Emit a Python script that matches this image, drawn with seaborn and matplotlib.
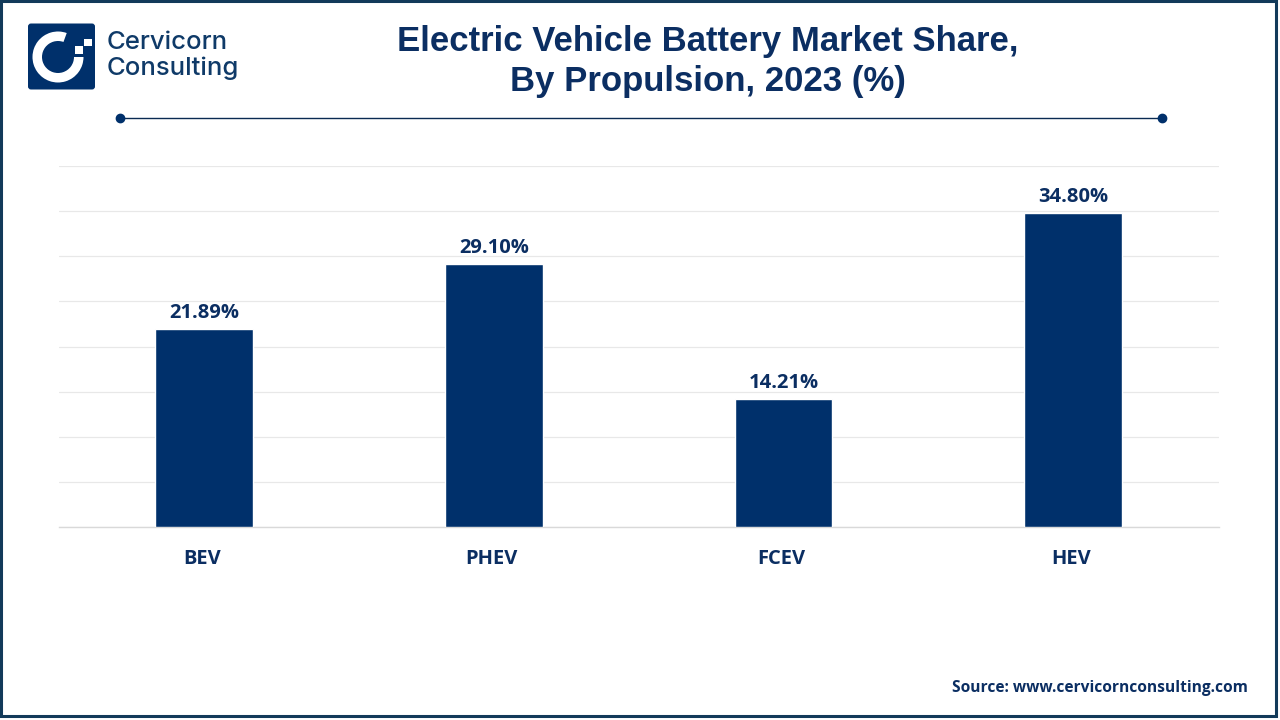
import matplotlib
matplotlib.use("Agg")
import matplotlib.pyplot as plt
from matplotlib.patches import FancyBboxPatch, Rectangle, Wedge
from matplotlib.transforms import ScaledTranslation
import pandas as pd
import seaborn as sns

# data
categories = ['BEV', 'PHEV', 'FCEV', 'HEV']
shares = [21.89, 29.10, 14.21, 34.80]
value_labels = ['21.89%', '29.10%', '14.21%', '34.80%']
grid_ticks = [0, 5, 10, 15, 20, 25, 30, 35, 40]

navy = '#00306B'
text_navy = '#0B2E62'
W, H = 1280, 720

sns.set_theme(style='white')
plt.rcParams['font.family'] = ['Open Sans', 'DejaVu Sans']

df = pd.DataFrame({'propulsion': categories, 'share': shares})

fig = plt.figure(figsize=(12.8, 7.2), dpi=100, facecolor='white')

# helper to put things in pixel coords of the picture
def fx(x):
    return x / W
def fy(y):
    return 1 - y / H

ax = fig.add_axes([fx(59), fy(527), (1219 - 59) / W, (527 - 166) / H])
sns.barplot(data=df, x='propulsion', y='share', color=navy, width=0.338, saturation=1, ax=ax, zorder=3)
ax.set_xlim(-0.502, 3.504)
ax.set_ylim(0, 40)
ax.set_yticks(grid_ticks)
ax.tick_params(axis='y', left=False, labelleft=False)
ax.tick_params(axis='x', bottom=False, pad=10)
ax.set_xlabel('')
ax.set_ylabel('')
ax.grid(axis='y', color='#E8E8E8', linewidth=0.9, zorder=0)
ax.set_axisbelow(True)
for s in ['top', 'left', 'right']:
    ax.spines[s].set_visible(False)
ax.spines['bottom'].set_color('#D9D9D9')
ax.spines['bottom'].set_linewidth(1.0)
# category labels sit a little left of the bar centres
shift = ScaledTranslation(-2.2 / 100, 0, fig.dpi_scale_trans)
for lab in ax.get_xticklabels():
    lab.set_fontsize(14.5)
    lab.set_fontweight('bold')
    lab.set_color(text_navy)
    lab.set_transform(lab.get_transform() + shift)

ax.bar_label(ax.containers[0], labels=value_labels, padding=4.5, fontsize=14.5,
             fontweight='bold', color=text_navy)

# title
fig.text(fx(708), fy(41), 'Electric Vehicle Battery Market Share,', ha='center', va='center',
         fontsize=25, fontweight='bold', color=text_navy, family='Liberation Sans')
fig.text(fx(708), fy(82), 'By Propulsion, 2023 (%)', ha='center', va='center',
         fontsize=25, fontweight='bold', color=text_navy, family='Liberation Sans')

# line under the title
fig.add_artist(plt.Line2D([fx(119.5), fx(1162)], [fy(118), fy(118)], color='#0A2A52', lw=1.0,
                          marker='o', markersize=6, markerfacecolor=navy, markeredgecolor=navy))

# source
fig.text(fx(1248), fy(688), 'Source: www.cervicornconsulting.com', ha='right', va='center',
         fontsize=11.2, fontweight='bold', color=text_navy)

# logo, drawn on an overlay axes in pixel coords
ov = fig.add_axes([0, 0, 1, 1], zorder=5)
ov.set_xlim(0, W)
ov.set_ylim(H, 0)
ov.axis('off')
ov.patch.set_alpha(0)
ov.add_patch(FancyBboxPatch((28, 23.5), 67, 66, boxstyle='round,pad=0,rounding_size=3', fc=navy, ec='none'))
ov.add_patch(Wedge((58, 57), 25.5, 0, 290, width=9.5, fc='white', ec='none'))
ov.add_patch(Rectangle((75, 46), 8, 8, fc='white', ec='none'))
ov.add_patch(Rectangle((84, 38.5), 7.5, 7.5, fc='white', ec='none'))
ov.text(107, 42.5, 'Cervicorn', fontsize=18.5, color='#0F3A68', family='Inter', fontweight='medium', va='center', ha='left')
ov.text(107, 68, 'Consulting', fontsize=18.5, color='#0F3A68', family='Inter', fontweight='medium', va='center', ha='left')

# outer frame
ov.add_patch(Rectangle((1, 1), 1275, 715, fc='none', ec='#123A5A', lw=2.2))

fig.savefig('out.png', dpi=100, facecolor='white')
